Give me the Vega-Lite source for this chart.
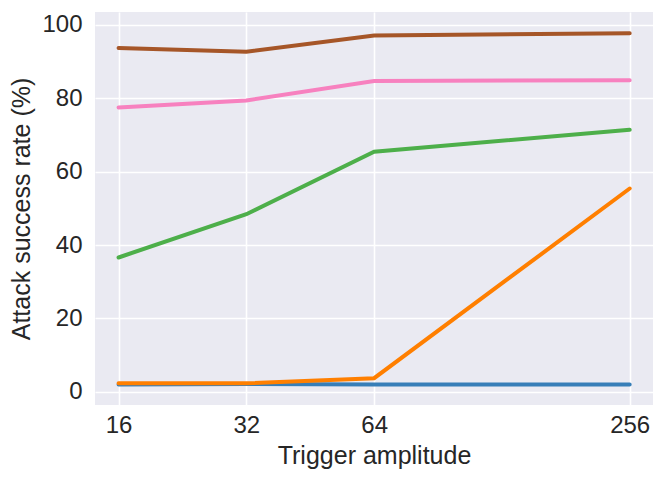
{
  "$schema": "https://vega.github.io/schema/vega-lite/v6.json",
  "autosize": {"type": "none"},
  "padding": {"left": 95, "top": 12, "right": 12, "bottom": 76},
  "width": 558,
  "height": 393,
  "background": "white",
  "data": {
    "values": [
      {"amplitude": 16, "rate": 2.0, "series": "A"},
      {"amplitude": 32, "rate": 2.1, "series": "A"},
      {"amplitude": 64, "rate": 2.0, "series": "A"},
      {"amplitude": 256, "rate": 2.0, "series": "A"},
      {"amplitude": 16, "rate": 2.3, "series": "B"},
      {"amplitude": 32, "rate": 2.3, "series": "B"},
      {"amplitude": 64, "rate": 3.7, "series": "B"},
      {"amplitude": 256, "rate": 55.4, "series": "B"},
      {"amplitude": 16, "rate": 36.6, "series": "C"},
      {"amplitude": 32, "rate": 48.4, "series": "C"},
      {"amplitude": 64, "rate": 65.4, "series": "C"},
      {"amplitude": 256, "rate": 71.4, "series": "C"},
      {"amplitude": 16, "rate": 77.5, "series": "D"},
      {"amplitude": 32, "rate": 79.4, "series": "D"},
      {"amplitude": 64, "rate": 84.7, "series": "D"},
      {"amplitude": 256, "rate": 84.9, "series": "D"},
      {"amplitude": 16, "rate": 93.7, "series": "E"},
      {"amplitude": 32, "rate": 92.7, "series": "E"},
      {"amplitude": 64, "rate": 97.1, "series": "E"},
      {"amplitude": 256, "rate": 97.7, "series": "E"}
    ]
  },
  "mark": {"type": "line", "strokeWidth": 4, "strokeCap": "round"},
  "encoding": {
    "x": {
      "field": "amplitude",
      "type": "quantitative",
      "title": "Trigger amplitude",
      "scale": {"type": "log", "base": 2, "domain": [14.08, 290.5], "nice": false},
      "axis": {"values": [16, 32, 64, 256], "format": "d", "labelPadding": 8, "titlePadding": 6}
    },
    "y": {
      "field": "rate",
      "type": "quantitative",
      "title": "Attack success rate (%)",
      "scale": {"domain": [-3.6, 103.5], "nice": false, "zero": false},
      "axis": {"values": [0, 20, 40, 60, 80, 100], "labelPadding": 13, "titlePadding": 7}
    },
    "color": {
      "field": "series",
      "type": "nominal",
      "scale": {"domain": ["A", "B", "C", "D", "E"], "range": ["#377eb8", "#ff7f00", "#4daf4a", "#f781bf", "#a65628"]},
      "legend": null
    }
  },
  "config": {
    "font": "Liberation Sans",
    "view": {"fill": "#EAEAF2", "stroke": null},
    "axis": {
      "domain": false,
      "ticks": false,
      "grid": true,
      "gridColor": "white",
      "gridWidth": 1.6,
      "labelFont": "Liberation Sans",
      "labelFontSize": 24,
      "labelColor": "#262626",
      "titleFont": "Liberation Sans",
      "titleFontSize": 25,
      "titleFontWeight": "normal",
      "titleColor": "#262626"
    }
  }
}
